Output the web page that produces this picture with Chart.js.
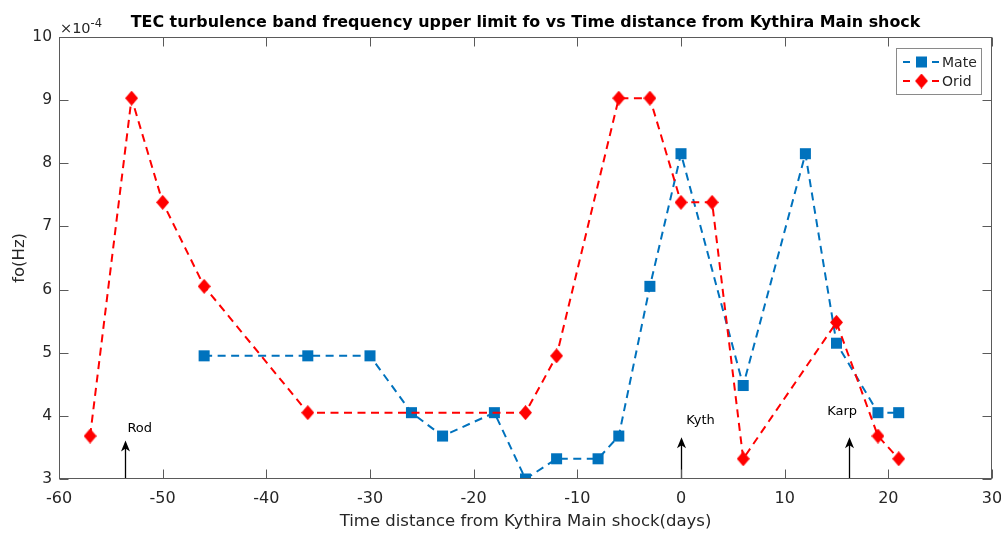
<!DOCTYPE html>
<html><head><meta charset="utf-8">
<script src="https://cdn.jsdelivr.net/npm/chart.js@4.4.1/dist/chart.umd.min.js"></script>
<style>html,body{margin:0;padding:0;background:#fff}#wrap{width:1001px;height:534px;position:relative}</style>
</head><body><div id="wrap"><canvas id="c" width="1001" height="534"></canvas></div>
<script>
// fo values in units of 1e-4 Hz
const mateX = [-46, -36, -30, -26, -23, -18, -15, -12, -8, -6, -3, 0, 6, 12, 15, 19, 21];
const mateY = [4.95, 4.95, 4.95, 4.05, 3.68, 4.05, 3.0, 3.32, 3.32, 3.68, 6.05, 8.15, 4.48, 8.15, 5.15, 4.05, 4.05];
const oridX = [-57, -53, -50, -46, -36, -15, -12, -6, -3, 0, 3, 6, 15, 19, 21];
const oridY = [3.68, 9.03, 7.38, 6.05, 4.05, 4.05, 4.95, 9.03, 9.03, 7.38, 7.38, 3.32, 5.48, 3.68, 3.32];
const xTicks = [-60, -50, -40, -30, -20, -10, 0, 10, 20, 30];
const yTicks = [3, 4, 5, 6, 7, 8, 9, 10];
const eventNames = ['Rod', 'Kyth', 'Karp'];
const eventX = [-53.6, 0, 16.2];
const eventTipY = [3.61, 3.66, 3.66];
const eventLabelX = [-53.4, 0.5, 14.1];
const eventLabelY = [3.80, 3.92, 4.06];

const BLUE = '#0072BD', RED = '#FF0000';
const TXT = '#262626', AX = '#5a5a5a';
const FAM = '"DejaVu Sans", "Liberation Sans", Arial, sans-serif';

function diamond(w, h, color) {
  const c = document.createElement('canvas');
  c.width = w; c.height = h;
  const g = c.getContext('2d');
  g.fillStyle = color;
  g.beginPath();
  g.moveTo(w / 2, 0); g.lineTo(w, h / 2); g.lineTo(w / 2, h); g.lineTo(0, h / 2);
  g.closePath(); g.fill();
  return c;
}
const dia = diamond(13, 15, RED);

const toPts = (xs, ys) => xs.map((v, i) => ({x: v, y: ys[i]}));

const deco = {
  id: 'deco',
  afterDatasetsDraw(chart) {
    const {ctx, chartArea: a, scales: {x, y}} = chart;
    ctx.save();
    // event arrows
    ctx.strokeStyle = '#000'; ctx.fillStyle = '#000'; ctx.lineWidth = 1.3;
    eventX.forEach((ex, i) => {
      const px = Math.round(x.getPixelForValue(ex)) + 0.5;
      const tip = y.getPixelForValue(eventTipY[i]);
      ctx.beginPath(); ctx.moveTo(px, a.bottom); ctx.lineTo(px, tip + 3); ctx.stroke();
      ctx.beginPath();
      ctx.moveTo(px, tip); ctx.lineTo(px + 4.5, tip + 11); ctx.lineTo(px, tip + 8); ctx.lineTo(px - 4.5, tip + 11);
      ctx.closePath(); ctx.fill();
      ctx.font = '13px ' + FAM;
      ctx.textAlign = 'left'; ctx.textBaseline = 'middle';
      ctx.fillText(eventNames[i], x.getPixelForValue(eventLabelX[i]), y.getPixelForValue(eventLabelY[i]));
    });
    // axes box
    ctx.strokeStyle = AX; ctx.lineWidth = 1;
    const L = Math.round(a.left) + 0.5, R = Math.round(a.right) - 0.5, T = Math.round(a.top) + 0.5, B = Math.round(a.bottom) - 0.5;
    ctx.strokeRect(L, T, R - L, B - T);
    const tl = 9;
    ctx.beginPath();
    xTicks.forEach(v => {
      const px = Math.round(x.getPixelForValue(v)) + 0.5;
      ctx.moveTo(px, B); ctx.lineTo(px, B - tl);
      ctx.moveTo(px, T); ctx.lineTo(px, T + tl);
    });
    yTicks.forEach(v => {
      const py = Math.round(y.getPixelForValue(v)) + 0.5;
      ctx.moveTo(L, py); ctx.lineTo(L + tl, py);
      ctx.moveTo(R, py); ctx.lineTo(R - tl, py);
    });
    ctx.stroke();
    // exponent label
    ctx.fillStyle = TXT; ctx.textAlign = 'left'; ctx.textBaseline = 'alphabetic';
    ctx.font = '14.5px ' + FAM;
    ctx.fillText('\u00d710', a.left + 1, 33);
    const w = ctx.measureText('\u00d710').width;
    ctx.font = '11.5px ' + FAM;
    ctx.fillText('-4', a.left + 1 + w, 27);
    // legend
    const lx = 896, ly = 48, lw = 85, lh = 46;
    ctx.fillStyle = '#fff'; ctx.fillRect(lx, ly, lw, lh);
    ctx.strokeStyle = '#8a8a8a'; ctx.lineWidth = 1;
    ctx.strokeRect(lx + 0.5, ly + 0.5, lw, lh);
    const rows = [{name: 'Mate', color: BLUE, y: 62, m: 'sq'}, {name: 'Orid', color: RED, y: 81, m: 'dia'}];
    rows.forEach(r => {
      ctx.strokeStyle = r.color; ctx.lineWidth = 2;
      ctx.beginPath();
      ctx.moveTo(903, r.y); ctx.lineTo(910, r.y);
      ctx.moveTo(932, r.y); ctx.lineTo(939, r.y);
      ctx.stroke();
      if (r.m === 'sq') { ctx.fillStyle = r.color; ctx.fillRect(921.5 - 5.5, r.y - 5.5, 11, 11); }
      else { ctx.drawImage(dia, 921.5 - 6.5, r.y - 7.5); }
      ctx.fillStyle = TXT; ctx.font = '14px ' + FAM;
      ctx.textBaseline = 'middle'; ctx.fillText(r.name, 942, r.y + 1);
    });
    ctx.restore();
  }
};

new Chart(document.getElementById('c'), {
  type: 'scatter',
  data: {
    datasets: [
      {label: 'Mate', data: toPts(mateX, mateY), showLine: true, order: 2,
       borderColor: BLUE, backgroundColor: BLUE, borderWidth: 2, borderDash: [8, 5.5],
       pointStyle: 'rect', pointRadius: 7.8, pointHoverRadius: 7.8, pointBorderWidth: 0, tension: 0},
      {label: 'Orid', data: toPts(oridX, oridY), showLine: true, order: 1,
       borderColor: RED, backgroundColor: RED, borderWidth: 2, borderDash: [8, 5.5],
       pointStyle: dia, pointRadius: 7, pointBorderWidth: 0, tension: 0}
    ]
  },
  options: {
    responsive: false, animation: false, devicePixelRatio: 1,
    layout: {padding: {left: 0, right: 9, top: 0, bottom: 0}},
    plugins: {
      legend: {display: false}, tooltip: {enabled: false},
      title: {display: true, fullSize: false, text: 'TEC turbulence band frequency upper limit fo vs Time distance from Kythira Main shock',
        color: '#000', font: {family: FAM, size: 15.9, weight: 'bold', lineHeight: 1.25},
        padding: {top: 13, bottom: 4}}
    },
    scales: {
      x: {type: 'linear', min: -60, max: 30,
        afterBuildTicks: s => { s.ticks = xTicks.map(v => ({value: v})); },
        afterFit: s => { s.height = 55; s.paddingLeft = 0; s.paddingRight = 0; },
        grid: {display: false, drawTicks: false}, border: {display: false},
        ticks: {color: TXT, padding: 10, autoSkip: false, maxRotation: 0,
          font: {family: FAM, size: 16}},
        title: {display: true, text: 'Time distance from Kythira Main shock(days)', color: TXT,
          font: {family: FAM, size: 16.5}, padding: {top: 0, bottom: 2}}
      },
      y: {type: 'linear', min: 3, max: 10,
        afterBuildTicks: s => { s.ticks = yTicks.map(v => ({value: v})); },
        afterFit: s => { s.width = 59; s.paddingTop = 0; s.paddingBottom = 0; },
        grid: {display: false, drawTicks: false}, border: {display: false},
        ticks: {color: TXT, padding: 7, autoSkip: false,
          font: {family: FAM, size: 15.5}},
        title: {display: true, text: 'fo(Hz)', color: TXT,
          font: {family: FAM, size: 16.5}, padding: {top: 10, bottom: 0}}
      }
    }
  },
  plugins: [deco]
});
</script></body></html>
